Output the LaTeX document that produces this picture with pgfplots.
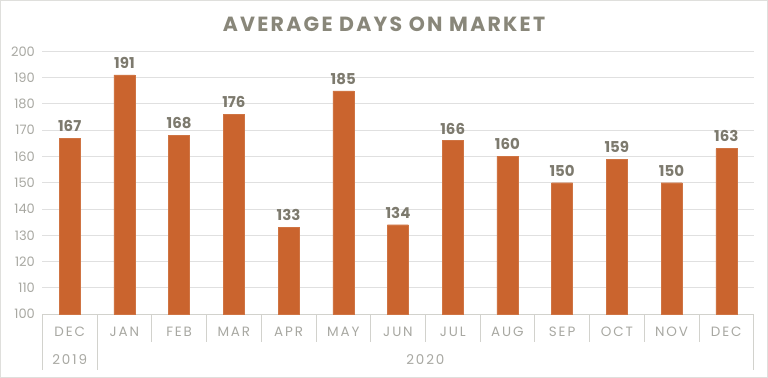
\documentclass[border=0pt]{standalone}
\usepackage{pgfplots}
\pgfplotsset{compat=1.18}
\usepackage{fontspec}
\setmainfont{Poppins}
\newfontfamily\spaced[LetterSpace=14]{Poppins}
\newfontfamily\titlefont[LetterSpace=11]{Poppins}
\definecolor{barc}{RGB}{202,100,46}
\definecolor{titlec}{RGB}{137,135,122}
\definecolor{labc}{RGB}{125,122,110}
\definecolor{tickc}{RGB}{168,168,162}
\definecolor{gridc}{RGB}{224,224,224}
\definecolor{axc}{RGB}{210,210,205}
\begin{document}
\begin{tikzpicture}
\draw[axc!70, line width=0.8pt] (0pt,0pt) rectangle (768pt,377pt);
\begin{axis}[
  at={(42pt,63pt)}, anchor=south west,
  scale only axis, width=712pt, height=263pt,
  xmin=-0.5, xmax=12.5, ymin=100, ymax=200,
  ytick={100,110,...,200},
  ymajorgrids, grid style={gridc, line width=0.8pt},
  axis x line*=bottom, axis y line*=left,
  y axis line style={draw=none}, ytick style={draw=none},
  x axis line style={axc, line width=0.8pt, -},
  xtick=\empty,
  yticklabel style={font=\fontsize{13}{12}\selectfont, text=tickc, xshift=-4pt},
  /pgf/number format/assume math mode=true,
  ybar, bar width=21pt,
  nodes near coords,
  every node near coord/.append style={font=\fontsize{15}{14}\selectfont\bfseries, text=labc, anchor=south, yshift=3pt},
  clip=false,
]
\addplot[fill=barc, draw=barc!90!white, line width=0.4pt] coordinates {
(0,167) (1,191) (2,168) (3,176) (4,133) (5,185) (6,134) (7,166) (8,160) (9,150) (10,159) (11,150) (12,163)};
\foreach \k in {1.5,2.5,...,11.5} {\edef\tmp{\noexpand\draw[axc, line width=0.8pt] (axis cs:\k,100) -- ([yshift=-28pt]axis cs:\k,100);}\tmp}
\foreach \k in {-0.5,0.5,12.5} {\edef\tmp{\noexpand\draw[axc, line width=0.8pt] (axis cs:\k,100) -- ([yshift=-56pt]axis cs:\k,100);}\tmp}
\foreach \m [count=\i from 0] in {DEC,JAN,FEB,MAR,APR,MAY,JUN,JUL,AUG,SEP,OCT,NOV,DEC} {\edef\tmp{\noexpand\node[font=\noexpand\spaced\noexpand\fontsize{13.5}{14}\noexpand\selectfont, text=tickc] at ([yshift=-18pt]axis cs:\i,100) {\m};}\tmp}
\node[font=\spaced\fontsize{13.5}{14}\selectfont, text=tickc] at ([yshift=-46pt]axis cs:0,100) {2019};
\node[font=\spaced\fontsize{13.5}{14}\selectfont, text=tickc] at ([yshift=-46pt]axis cs:6.5,100) {2020};
\end{axis}
\node[font=\titlefont\fontsize{20.5}{20}\selectfont\bfseries, text=titlec] at (384pt,353pt) {AVERAGE DAYS ON MARKET};
\end{tikzpicture}
\end{document}
